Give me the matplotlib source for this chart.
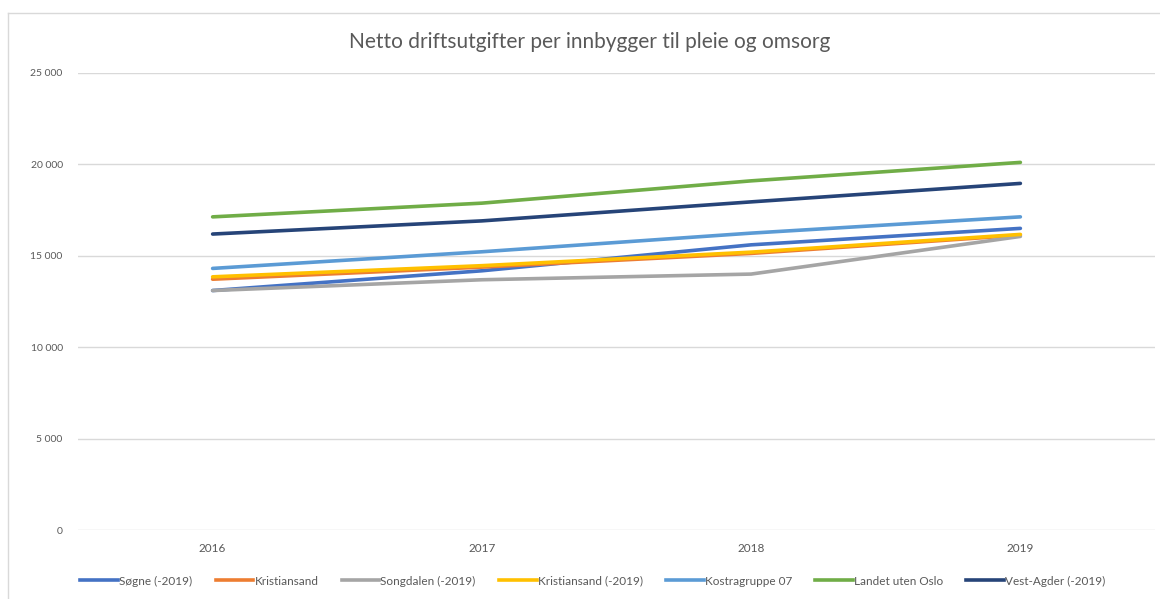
import matplotlib.pyplot as plt
from matplotlib.lines import Line2D

# data
years = ['2016', '2017', '2018', '2019']
sogne = [13100, 14180, 15600, 16500]
kristiansand = [13720, 14380, 15130, 16130]
songdalen = [13100, 13690, 14000, 16060]
kristiansand_old = [13850, 14460, 15200, 16170]
kostra07 = [14310, 15220, 16240, 17130]
landet_uten_oslo = [17130, 17880, 19100, 20110]
vest_agder = [16190, 16910, 17950, 18960]

names = ['Søgne (-2019)', 'Kristiansand', 'Songdalen (-2019)', 'Kristiansand (-2019)',
         'Kostragruppe 07', 'Landet uten Oslo', 'Vest-Agder (-2019)']
series = [sogne, kristiansand, songdalen, kristiansand_old, kostra07, landet_uten_oslo, vest_agder]
colors = ['#4472C4', '#ED7D31', '#A5A5A5', '#FFC000', '#5B9BD5', '#70AD47', '#264478']

plt.rcParams['font.family'] = ['Lato', 'DejaVu Sans']
txt = '#595959'

W, H = 1160, 599
fig = plt.figure(figsize=(W / 100, H / 100), dpi=100)
ax = fig.add_axes([78 / W, 1 - 530 / H, (1155 - 78) / W, (530 - 73) / H])

x = range(len(years))
for vals, c in zip(series, colors):
    ax.plot(x, vals, color=c, linewidth=2.6, solid_capstyle='round')

ax.set_xlim(-0.5, 3.5)
ax.set_ylim(0, 25000)
ax.set_yticks(range(0, 25001, 5000))
ax.set_yticklabels(['{:,}'.format(v).replace(',', ' ') for v in range(0, 25001, 5000)])
ax.set_xticks(list(x))
ax.set_xticklabels(years)
ax.tick_params(axis='y', length=0, pad=11, labelsize=7.5, labelcolor=txt)
ax.tick_params(axis='x', length=0, pad=9, labelsize=8.5, labelcolor=txt)
ax.grid(axis='y', color='#d9d9d9', linewidth=1)
ax.set_axisbelow(True)
for s in ax.spines.values():
    s.set_visible(False)

fig.text(590 / W, 1 - 42 / H, 'Netto driftsutgifter per innbygger til pleie og omsorg',
         ha='center', va='center', fontsize=15, color=txt)

handles = [Line2D([], [], color=c, linewidth=2.6) for c in colors]
fig.legend(handles, names, loc='center', bbox_to_anchor=(593 / W, 1 - 581 / H), ncol=7,
           frameon=False, fontsize=8.5, labelcolor=txt, handlelength=3.2, handletextpad=0.1,
           columnspacing=1.95)

# chart border (cropped on right and bottom)
fig.add_artist(Line2D([8 / W, 1], [1 - 13 / H, 1 - 13 / H], color='#d9d9d9', linewidth=1))
fig.add_artist(Line2D([8 / W, 8 / W], [0, 1 - 13 / H], color='#d9d9d9', linewidth=1))

fig.savefig('out.png', dpi=100, facecolor='white')
